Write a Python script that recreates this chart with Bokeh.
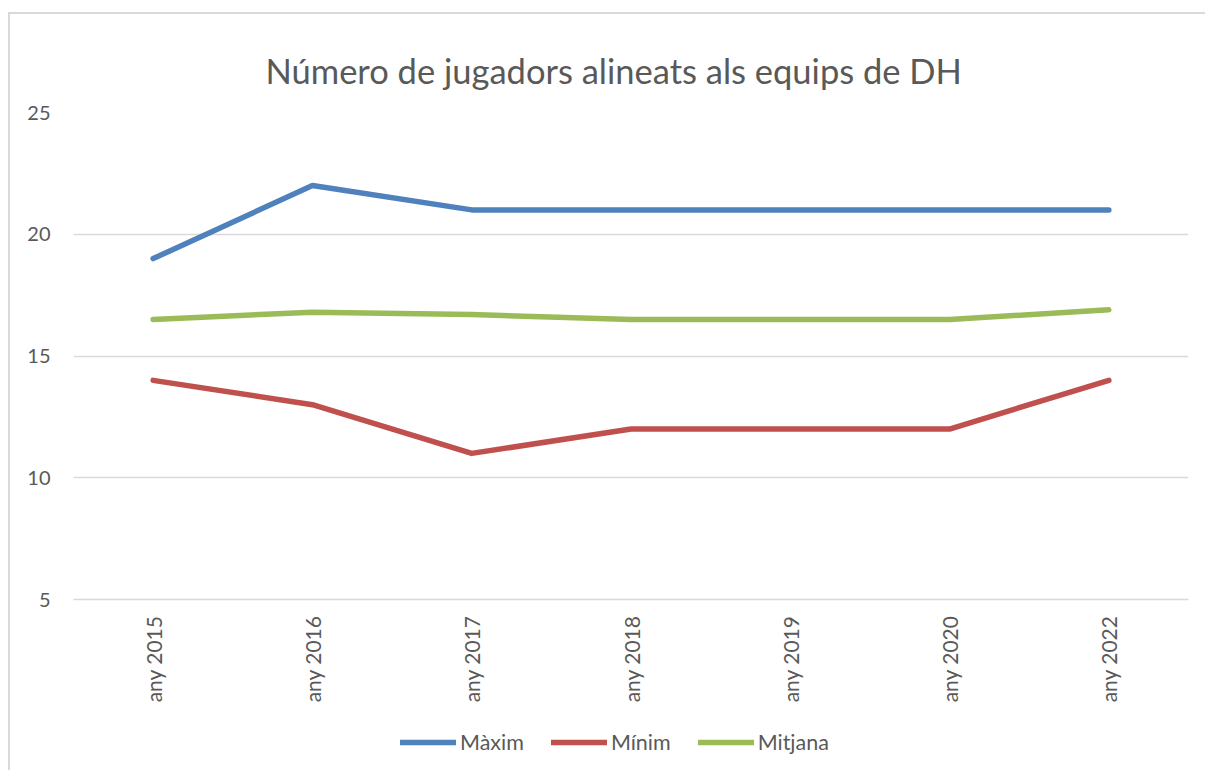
from bokeh.plotting import figure
from bokeh.models import FactorRange, Range1d, Legend, LegendItem, FixedTicker, Title
from bokeh.layouts import column
from bokeh.embed import file_html
from bokeh.resources import INLINE
import math

categories = ["any 2015", "any 2016", "any 2017", "any 2018", "any 2019", "any 2020", "any 2022"]
maxim = [19, 22, 21, 21, 21, 21, 21]
minim = [14, 13, 11, 12, 12, 12, 14]
mitjana = [16.5, 16.8, 16.7, 16.5, 16.5, 16.5, 16.9]
y_ticks = [5, 10, 15, 20, 25]

FONT = "Lato"
TXT = "#595959"
BORDER = "2px solid #d9d9d9"

p = figure(width=1197, height=692, output_backend="svg", toolbar_location=None,
           x_range=FactorRange(*categories, range_padding=0), y_range=Range1d(5, 25),
           min_border_left=63, min_border_right=19, min_border_top=98, min_border_bottom=107)
p.margin = (12, 0, 0, 8)
p.styles = {"border-left": BORDER, "border-top": BORDER}

title = Title(text="Número de jugadors alineats als equips de DH", align="left",
              vertical_align="top",
              text_font=FONT, text_font_size="34.5px", text_font_style="normal",
              text_color=TXT, standoff=40, offset=192)
p.add_layout(title, "above")

p.outline_line_color = None
p.xgrid.grid_line_color = None
p.ygrid.grid_line_color = "#d9d9d9"
p.ygrid.grid_line_width = 1.3

p.yaxis.ticker = FixedTicker(ticks=y_ticks)
p.yaxis.axis_line_color = None
p.yaxis.major_tick_line_color = None
p.yaxis.minor_tick_line_color = None
p.yaxis.major_label_standoff = 17
p.yaxis.major_label_text_font = FONT
p.yaxis.major_label_text_font_size = "20px"
p.yaxis.major_label_text_color = TXT

p.xaxis.axis_line_color = "#d9d9d9"
p.xaxis.axis_line_width = 1.3
p.xaxis.major_tick_line_color = None
p.xaxis.minor_tick_line_color = None
p.xaxis.major_label_orientation = math.pi / 2
p.xaxis.major_label_standoff = 10
p.xaxis.major_label_text_font = FONT
p.xaxis.major_label_text_font_size = "21px"
p.xaxis.major_label_text_color = TXT

series = [("Màxim", maxim, "#4F81BD"), ("Mínim", minim, "#C0504D"), ("Mitjana", mitjana, "#9BBB59")]

# legend strip below the chart
p2 = figure(width=1197, height=66, output_backend="svg", toolbar_location=None,
            x_range=FactorRange(*categories, range_padding=0), y_range=Range1d(100, 200),
            min_border_left=0, min_border_right=0, min_border_top=0, min_border_bottom=0)
p2.margin = (0, 0, 0, 8)
p2.styles = {"border-left": BORDER}
p2.axis.visible = False
p2.grid.visible = False
p2.outline_line_color = None

items = []
for name, vals, col in series:
    p.line(categories, vals, line_color=col, line_width=5.5, line_cap="round", line_join="round")
    r2 = p2.line(categories, vals, line_color=col, line_width=5.5, line_cap="round")
    items.append(LegendItem(label=name, renderers=[r2]))

legend = Legend(items=items, orientation="horizontal", location=(327, 15),
                label_text_font=FONT, label_text_font_size="21.5px", label_text_color=TXT,
                glyph_width=56, glyph_height=20, label_standoff=4, spacing=27,
                border_line_color=None, background_fill_alpha=0, margin=0, padding=4)
p2.add_layout(legend, "center")

layout = column(p, p2, spacing=0)
open("out.html", "w").write(file_html(layout, INLINE))
